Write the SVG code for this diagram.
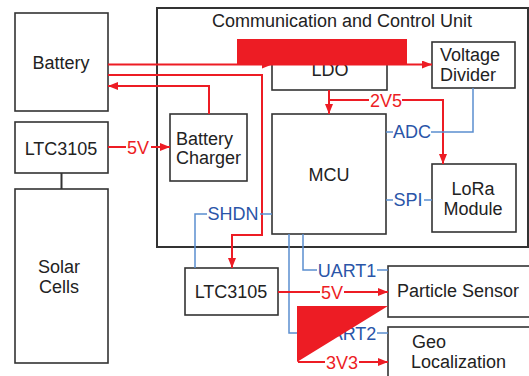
<svg xmlns="http://www.w3.org/2000/svg" width="529" height="376" viewBox="0 0 529 376">
<defs>
<marker id="ar" viewBox="0 0 10 8" refX="10" refY="4" markerWidth="10" markerHeight="8" markerUnits="userSpaceOnUse" orient="auto">
<path d="M0,0 L10,4 L0,8 Z" fill="#ED1C24"/>
</marker>
</defs>
<style>
.box{fill:#fff;stroke:#333;stroke-width:1.6}
.t{font-family:"Liberation Sans",Arial,sans-serif;font-size:18px;fill:#222}
.m{text-anchor:middle}
.r{fill:none;stroke:#ED1C24;stroke-width:2}
.b{fill:none;stroke:#5B8FD0;stroke-width:1.5}
.rt{font-family:"Liberation Sans",Arial,sans-serif;font-size:18px;fill:#ED1C24;text-anchor:middle}
.bt{font-family:"Liberation Sans",Arial,sans-serif;font-size:18px;fill:#2A55A8;text-anchor:middle}
</style>
<rect width="529" height="376" fill="#fff"/>
<g id="ccu"><rect x="157" y="8" width="371" height="239" fill="none" stroke="#333" stroke-width="2"/>
<text class="t m" x="342" y="27">Communication and Control Unit</text></g>
<g id="battery"><rect class="box" x="15" y="13" width="93" height="98"/><text class="t m" x="61" y="69">Battery</text></g>
<g id="ltc3105a"><rect class="box" x="15" y="122" width="93" height="51"/><text class="t m" x="61" y="155">LTC3105</text></g>
<g id="solar"><rect class="box" x="15" y="189" width="93" height="174"/><text class="t m" x="59" y="273">Solar</text><text class="t m" x="59" y="293">Cells</text></g>
<g id="charger"><rect class="box" x="170" y="114" width="77" height="67"/><text class="t" x="176" y="145">Battery</text><text class="t" x="176" y="164">Charger</text></g>
<g id="ldo"><rect class="box" x="272" y="45" width="115" height="45"/><text class="t m" x="330" y="76">LDO</text></g>
<g id="vdiv"><rect class="box" x="432" y="42" width="83" height="46"/><text class="t" x="440" y="61">Voltage</text><text class="t" x="440" y="81">Divider</text></g>
<g id="mcu"><rect class="box" x="272" y="114" width="114" height="120"/><text class="t m" x="329" y="181">MCU</text></g>
<g id="lora"><rect class="box" x="432" y="164" width="84" height="68"/><text class="t m" x="473" y="195">LoRa</text><text class="t m" x="473" y="215">Module</text></g>
<g id="ltc3105b"><rect class="box" x="185" y="268" width="93" height="47"/><text class="t m" x="231" y="298">LTC3105</text></g>
<g id="particle"><rect class="box" x="388" y="266" width="145" height="51"/><text class="t" x="397" y="297">Particle Sensor</text></g>
<g id="geo"><rect class="box" x="388" y="327" width="145" height="60"/><text class="t" x="412" y="348">Geo</text><text class="t" x="411" y="368">Localization</text></g>
<g id="connectors">
<line x1="61.5" y1="173" x2="61.5" y2="189" stroke="#333" stroke-width="2"/>
<path class="r" d="M108,147 H170" marker-end="url(#ar)"/>
<rect x="126" y="138" width="25" height="18" fill="#fff"/>
<text class="rt" x="138" y="154">5V</text>
<path class="r" d="M209,114 V86 H108" marker-end="url(#ar)"/>
<path class="r" d="M108,64.5 H432" marker-end="url(#ar)"/>
<path d="M262,64.5 L272,64.5 L262,68.5 Z" fill="#ED1C24"/>
<path class="r" d="M108,75 H262 V235 H232 V268" marker-end="url(#ar)"/>
<rect x="237" y="39" width="170" height="25" fill="#ED1C24"/>
<path class="r" d="M329,90 V114" marker-end="url(#ar)"/>
<path class="r" d="M329,100 H443 V164" marker-end="url(#ar)"/>
<rect x="369" y="92" width="33" height="18" fill="#fff"/>
<text class="rt" x="386" y="107">2V5</text>
<path class="b" d="M386,132 H473 V88"/>
<rect x="393" y="122" width="38" height="18" fill="#fff"/>
<text class="bt" x="412" y="138">ADC</text>
<path class="b" d="M386,200 H432"/>
<rect x="393" y="190" width="31" height="18" fill="#fff"/>
<text class="bt" x="408" y="206">SPI</text>
<path class="b" d="M272,214 H195 V268"/>
<rect x="207" y="204" width="53" height="18" fill="#fff"/>
<text class="bt" x="233" y="220">SHDN</text>
<path class="b" d="M303,234 V270 H388"/>
<rect x="317" y="260" width="60" height="18" fill="#fff"/>
<text class="bt" x="347" y="277">UART1</text>
<path class="b" d="M289,234 V333 H388"/>
<rect x="317" y="323" width="60" height="18" fill="#fff"/>
<text class="bt" x="347" y="340">UART2</text>
<path class="r" d="M278,292 H388" marker-end="url(#ar)"/>
<rect x="320" y="283" width="24" height="18" fill="#fff"/>
<text class="rt" x="332" y="299">5V</text>
<path class="r" d="M298,362 H388" marker-end="url(#ar)"/>
<rect x="325" y="353" width="34" height="18" fill="#fff"/>
<text class="rt" x="342" y="369">3V3</text>
<polygon points="297,306 388,306 297,362" fill="#ED1C24"/>
</g>
</svg>
